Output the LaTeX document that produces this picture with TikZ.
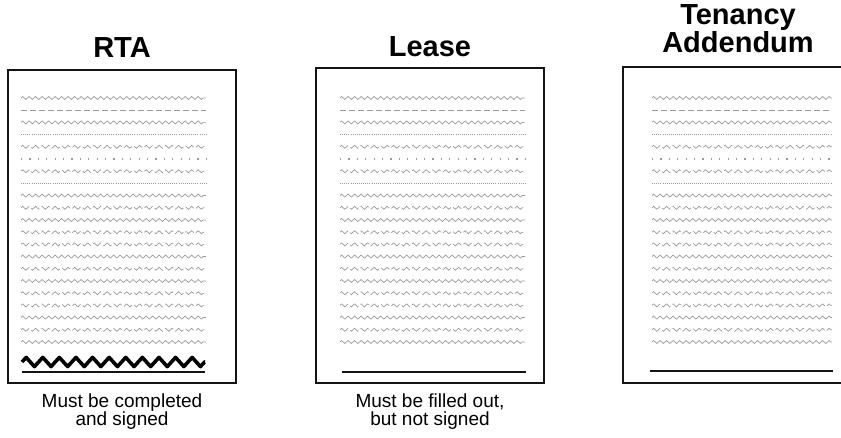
\documentclass[tikz,border=0pt]{standalone}
\usepackage{fontspec}
\setmainfont{Liberation Sans}
\usetikzlibrary{decorations.pathmorphing}
\definecolor{rowgray}{RGB}{155,155,155}
\definecolor{inkblack}{RGB}{20,20,20}

\begin{document}
\begin{tikzpicture}[x=1pt, y=-1pt, every node/.style={inner sep=0pt}]
\tikzset{
  page/.style={draw=inkblack, line width=1.8pt},
  title/.style={font=\fontsize{29}{24}\selectfont\bfseries, align=center},
  caption/.style={font=\fontsize{19}{18}\selectfont, align=center},
  rowzz/.style={draw=rowgray, line width=0.7pt, decorate, decoration={zigzag, segment length=6.5pt, amplitude=1.5pt}},
  rowpair/.style={rowzz, dash pattern=on 11pt off 3pt},
  rowdash/.style={draw=rowgray, line width=0.9pt, dash pattern=on 6pt off 3pt},
  rowdot/.style={draw=rowgray, line width=0.9pt, dash pattern=on 0.8pt off 1.3pt},
  rowsparse/.style={draw=rowgray, line width=1.2pt, dash pattern=on 1.2pt off 7.2pt},
  sigline/.style={draw=inkblack, line width=1.6pt},
  signature/.style={draw=black, line width=3.6pt, line join=round, decorate, decoration={zigzag, segment length=16.6pt, amplitude=4.6pt}}
}
\useasboundingbox (0,0) rectangle (841,438);

% the three forms
\draw[page] (8,70) rectangle (236,383);
\draw[page] (316,68) rectangle (544,383);
\draw[page] (841,67) -- (623,67) -- (623,383) -- (841,383);

% titles
\node[title, anchor=base] (rta) at (122,58) {RTA};
\node[title, anchor=base] (lease) at (430,57) {Lease};
\node[title, anchor=base] (tenancy) at (738,53) {Tenancy\\Addendum};

% printed text rows
\foreach \k [count=\i] in {zz,dash,zz,dot,pair,sparse,pair,dot,zz,pair,zz,pair,pair,zz,pair,zz,pair,pair,zz,pair,zz}
  \foreach \xa/\xb in {21/206, 340/525, 652/832}
    \draw[row\k] (\xa,{98+12.2*(\i-1)}) -- (\xb,{98+12.2*(\i-1)});

% signature area
\draw[signature] (22,362) -- (205,362);
\draw[sigline] (22,372) -- (205,372);
\draw[sigline] (342,372) -- (526,372);
\draw[sigline] (650,371) -- (833,371);

% notes under the forms
\node[caption, anchor=base] (rtanote) at (122,425) {Must be completed\\and signed};
\node[caption, anchor=base] (leasenote) at (430,425) {Must be filled out,\\but not signed};
\end{tikzpicture}
\end{document}
